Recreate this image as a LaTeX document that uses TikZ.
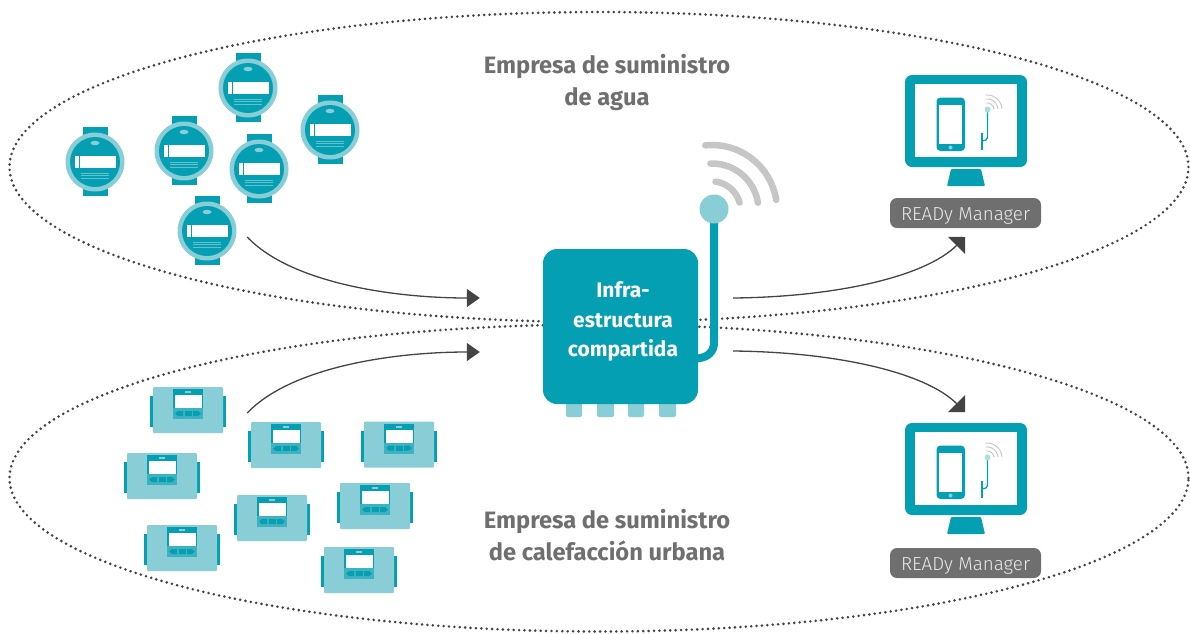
\documentclass[tikz,border=0pt]{standalone}
\usepackage{fontspec}
\setmainfont{Fira Sans}
\newfontfamily\lightfont{Fira Sans Light}
\usetikzlibrary{arrows.meta,shapes.geometric,calc}
\definecolor{teal}{HTML}{049FB3}
\definecolor{pale}{HTML}{89CED6}
\definecolor{mid}{HTML}{3FB2C1}
\definecolor{ink}{HTML}{444444}
\definecolor{title}{HTML}{6F6F6F}
\definecolor{wave}{HTML}{C6C6C6}
\tikzset{
  zone/.style={ellipse,draw=ink,line width=2.9pt,line cap=round,dash pattern=on 0pt off 5.4pt,inner sep=0pt,minimum width=1179pt,minimum height=#1},
  flow/.style={draw=ink,line width=1.3pt,-{Triangle[length=13pt,width=18pt,fill=ink]}},
  flowup/.style={draw=ink,line width=1.3pt,-{Triangle[length=12pt,width=24pt,fill=ink]}},
  heading/.style={text=title,font=\fontsize{23.7}{32}\selectfont\bfseries,align=center,inner sep=0pt},
  hubbox/.style={fill=teal,rounded corners=14pt,minimum width=155pt,minimum height=155pt,inner sep=0pt},
  hubtext/.style={text=white,align=center,inner sep=0pt,font=\fontsize{21}{29.5}\selectfont\bfseries},
  tag/.style={fill=title,rounded corners=7pt,minimum width=151pt,minimum height=30pt,inner sep=0pt,text height=14pt,text depth=0pt,text=white!85!title,font=\lightfont\fontsize{18.8}{22}\selectfont},
  anchorbox/.style={inner sep=0pt,minimum width=#1},
}
\newcommand{\watermeter}[3]{%
  \node[anchorbox=59pt,minimum height=69pt] (#1) at (#2,#3) {};
  \begin{scope}[shift={(#2,#3)}]
    \fill[teal] (-12.5,-35) rectangle (12.5,34);
    \fill[pale] (0,0) circle[radius=29.5];
    \fill[teal] (0,0) circle[radius=25];
    \fill[pale] (0,-19) ellipse[x radius=4.5,y radius=2.2];
    \fill[white] (-20.5,-6) rectangle (-16.5,6);
    \fill[white] (-15.2,-6) rectangle (20.5,6);
    \draw[mid!50!pale,line width=.5pt] (-14.5,11) -- (14,11) (-14.5,13.5) -- (14,13.5) (-14.5,16) -- (14,16);
  \end{scope}}
\newcommand{\heatmeter}[3]{%
  \node[anchorbox=70pt,minimum height=46pt] (#1) at (#2,#3) {};
  \begin{scope}[shift={(#2,#3)}]
    \fill[teal] (-38,-14) rectangle (38,17);
    \fill[pale,rounded corners=1pt] (-35,-23) rectangle (35,23);
    \fill[mid] (-15,-2) rectangle (15,9);
    \fill[teal] (-15,-21) rectangle (15,-2);
    \fill[white] (-13,-15) rectangle (13.5,-2);
    \fill[pale] (-3,-18.8) rectangle (3,-16.6);
    \fill[teal] (-3.5,1) rectangle (3.5,6);
    \fill[teal] (-5,1) -- (-5,6) -- (-10,6) -- (-13,3.5) -- (-10,1) -- cycle;
    \fill[teal] (5,1) -- (5,6) -- (10,6) -- (13,3.5) -- (10,1) -- cycle;
  \end{scope}}
\newcommand{\monitor}[4]{%
  \node[anchorbox=122pt,minimum height=92pt,fill=teal,rounded corners=7pt] (#1) at (966,{121+#2}) {};
  \begin{scope}[shift={(0,#2)}]
    \fill[white] (915,84) rectangle (1017,157);
    \fill[teal,rounded corners=1pt] (951,169) -- (981,169) -- (985,186) -- (947,186) -- cycle;
    \fill[teal,rounded corners=4pt] (936.5,97.5) rectangle (965,151);
    \fill[white] (939,104.5) rectangle (962,144);
    \fill[pale] (950.5,147.5) circle[radius=2];
    \draw[wave,line width=.9pt] plot[domain=-95:-5,samples=12] ({987+7*cos(\x)},{110+7*sin(\x)});
    \draw[wave,line width=.9pt] plot[domain=-95:-5,samples=12] ({987+11*cos(\x)},{110+11*sin(\x)});
    \draw[wave,line width=.9pt] plot[domain=-95:-5,samples=12] ({987+15*cos(\x)},{110+15*sin(\x)});
    \draw[teal,line width=1.3pt] (987.5,110) -- (987.5,136) .. controls (987.5,140) and (985,141) .. (982,141);
    \draw[teal,line width=1.5pt] (982,133) -- (982,150);
    \fill[pale!70!white] (987.5,109.5) circle[radius=3];
  \end{scope}
  \node[tag] (#3) at (965.5,{213+#4}) {READy Manager};}
\begin{document}
\begin{tikzpicture}[x=1pt,y=-1pt]
\useasboundingbox (0,0) rectangle (1190,633);
\clip (0,0) rectangle (1190,633);
\node[zone=310pt] (waterzone) at (599,167) {};
\node[zone=307pt] (heatzone) at (599,478) {};
\node[heading] (watertitle) at (607,82.5) {Empresa de suministro\\de agua};
\node[heading] (heattitle) at (607,535) {Empresa de suministro\\de calefacción urbana};
\watermeter{wa}{95}{162}
\watermeter{wb}{184}{151}
\watermeter{wc}{248}{88}
\watermeter{wd}{330}{130}
\watermeter{we}{259}{169}
\watermeter{wf}{207}{231}
\heatmeter{ha}{188}{410}
\heatmeter{hb}{286}{445}
\heatmeter{hc}{399}{444.5}
\heatmeter{hd}{162}{476}
\heatmeter{he}{272}{518}
\heatmeter{hf}{375}{506}
\heatmeter{hg}{182}{548}
\heatmeter{hh}{359}{570}
% hub
\fill[pale,rounded corners=2pt] (566,400) rectangle (582,417);
\fill[pale,rounded corners=2pt] (597,400) rectangle (614,417);
\fill[pale,rounded corners=2pt] (628,400) rectangle (644,417);
\fill[pale,rounded corners=2pt] (659,400) rectangle (676,417);
\draw[teal,line width=8pt] (714,209) -- (714,343) .. controls (714,352) and (707,358.5) .. (695,358.5);
\node[hubbox] (hub) at (620.5,326.5) {};
\node[hubtext] (hublabel) at (623,321.5) {Infra-\\estructura\\compartida};
\fill[pale] (714,209) circle[radius=14.5];
\foreach \r/\a/\b in {65/-96/-9, 46.5/-92/-9, 28.5/-83/-15}
  \draw[wave,line width=6.5pt,line cap=round] plot[domain=\a:\b,samples=24] ({712+\r*cos(\x)},{210+\r*sin(\x)});
\monitor{mona}{0}{taga}{0}
\monitor{monb}{348}{tagb}{350}
% connector ends
\coordinate (wout) at ($(wf.east)+(10.5,6)$);
\coordinate (hout) at ($(ha.east)+(24,3)$);
\coordinate (hubwa) at ($(hub.west)+(-63,-28.5)$);
\coordinate (hubwb) at ($(hub.west)+(-63,25.5)$);
\coordinate (hubea) at ($(hub.east)+(35,-28.5)$);
\coordinate (hubeb) at ($(hub.east)+(35,24.5)$);
\coordinate (taga-in) at (965,237);
\coordinate (tagb-in) at (965,412);
\draw[flow] (wout) .. controls (290,282) and (390,298) .. (hubwa);
\draw[flow] (hout) .. controls (290,368) and (390,352) .. (hubwb);
\draw[flowup] (hubea) .. controls (835,297) and (925,277) .. (taga-in);
\draw[flowup] (hubeb) .. controls (835,352) and (925,372) .. (tagb-in);
\end{tikzpicture}
\end{document}
